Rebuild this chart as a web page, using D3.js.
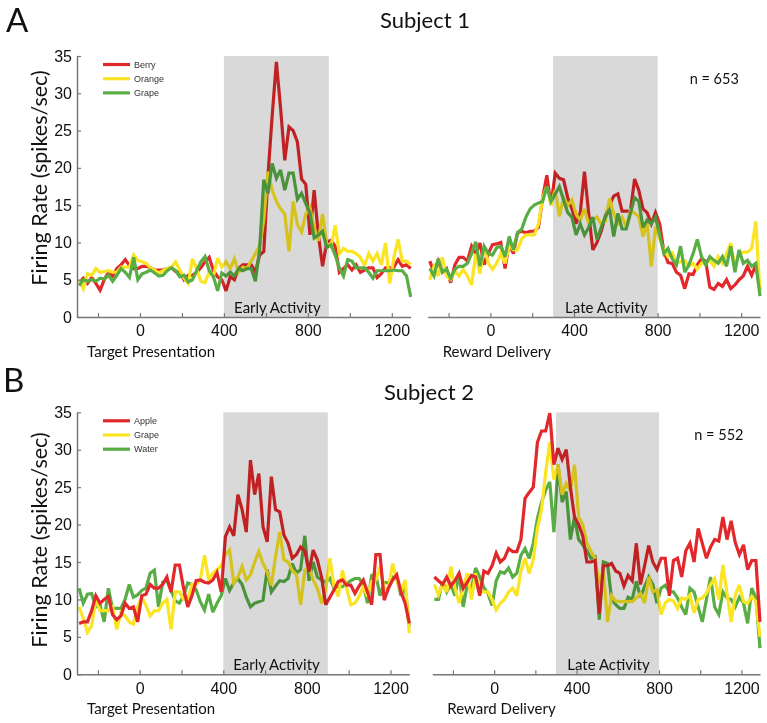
<!DOCTYPE html>
<html>
<head>
<meta charset="utf-8">
<script src="https://cdn.jsdelivr.net/npm/d3@7"></script>
<style>
  html, body { margin: 0; padding: 0; background: #fff; }
  svg { display: block; }
  .lbl { font-family: "Lato", "Open Sans", sans-serif; fill: #111; }
  .tick text { font-family: "Liberation Sans", Arial, sans-serif; font-size: 16px; fill: #111; }
  .legend text { font-family: "Liberation Sans", Arial, sans-serif; font-size: 9px; fill: #333; }
</style>
</head>
<body>
<svg id="chart" width="767" height="723"></svg>
<script>
// ---------------- data ----------------
const timeBins = d3.range(-290, 1291, 20); // 80 bins, ms
const xTickValues = [-200, 0, 200, 400, 600, 800, 1000, 1200];
const xTickLabels = [0, 400, 800, 1200];
const yTickValues = [0, 5, 10, 15, 20, 25, 30, 35];

const subjectTitles = ["Subject 1", "Subject 2"];
const panelLetters = ["A", "B"];
const cellCounts = ["n = 653", "n = 552"];
const s1Names = ["Berry", "Orange", "Grape"];
const s2Names = ["Apple", "Grape", "Water"];
const epochNames = ["Early Activity", "Late Activity"];
const alignNames = ["Target Presentation", "Reward Delivery"];
const earlyWindow = [400, 900];
const lateWindow = [300, 800];

// Subject 1, aligned to target
const s1TargetBerry = [4.6,5.2,4.5,5.3,4.5,3.6,5,6,5.5,6.5, 7,7.7,6.9,6.5,6.5,6.8,6.8,6.6,6.3,6.3, 6.3,6.5,6.6,6.1,6,5,5.6,5.6,6,6.6, 7.4,8,6.2,5.4,5,3.5,5.4,5,6.5,7, 7,7,6,8.3,8.8,19,27,34.2,28,21, 25.5,25,23.5,18.5,17.8,11,17,11,6.8,10, 10.3,9.5,6,6.5,7,6.3,7,6,6.3,6.6, 6.6,5.3,5.8,6.6,6.6,6.7,7.7,6.8,7,6.5];
const s1TargetOrange = [5,3.8,5.8,5.6,6.5,6,6.1,6.2,6,6, 6.7,6.7,6.7,8.3,7.6,7.4,7.2,6.6,6.3,5.9, 6.2,6.5,6.7,7.4,6.3,5.2,4.5,7.8,6.5,4.8, 4.6,6,5.5,7.9,6.7,7.4,6.5,7.8,6,6.7, 6.5,7.5,8.5,9.5,13,19.5,17,15.5,14.5,13.8, 8.8,15.5,12.4,11.4,13.8,14.7,12,10.2,13.8,9.8, 9.4,12.3,8.5,9.2,8.8,8.8,8.5,8,6.9,8.5, 7.5,8.5,7,9.9,4.5,8,10.4,7.5,7.5,7];
const s1TargetGrape = [4.2,5,4.8,5,4.8,5.2,5.1,5.6,4.8,5.6, 6.5,6,5.3,8,5,5.8,6,6.3,5.9,5.5, 5.6,6.2,6.6,6.2,5.4,5.6,4.7,5,6.2,7.4, 8.1,6.2,5.4,3.5,5.9,5.5,6,5.5,6.5,6.2, 6.5,6.5,4.8,9,18.4,16.6,20.6,18.6,19.7,17, 19.3,19.3,15.8,16.6,15.2,14,10.6,11,11.5,9.3, 9.7,8.3,6.6,5.5,7.7,7.5,6.6,6.6,6.6,6, 5.2,6.2,6.2,6.2,6.2,6.3,6.2,6.2,5.5,2.7];

// Subject 1, aligned to reward
const s1RewardBerry = [7.5,6,7.5,6,6.5,4.6,7,8,8,7.5, 9.5,8.5,9.9,7,8.5,9.7,9.8,10,6.5,9.8, 8.5,11.3,11.5,11.3,11.5,11.5,12,16,19,15, 19.3,18.6,18.4,16,14.5,12.5,14,19.5,14,9, 10,11.5,13.5,15,16.2,16.5,14.2,14.2,14.2,18.5, 17,14.5,14,12.5,14,12.5,8.8,7.3,7.2,6, 5.6,3.8,5.8,5.7,7,7.8,7.5,4,3.7,4.5, 4.1,5,3.8,4.3,5,5.5,6.8,5.6,7,3.7];
const s1RewardOrange = [5,6.8,5.5,8,5.5,5,6.2,5.5,6.4,5.5, 4.3,8.5,5.8,9.5,7.2,6.4,7.2,8.5,7.2,9.5, 9,9,10.5,11,11,11,12.5,16,17.5,15, 17,13.5,16,15,15.7,13.8,13,14.5,12.5,13, 13.4,12.5,12.8,15.9,13.9,12.5,13.4,12.1,14.3,13.9, 13.5,10.8,12.6,6.8,12.1,10.4,9,8.1,8.6,7.2, 7.4,7.6,6.8,7.2,6.4,7.2,7.2,7.6,6.8,8.1, 7.2,8.5,9.9,6.8,8.5,8.7,8.7,9.2,12.8,3.2];
const s1RewardGrape = [6.5,5.5,7.8,6,6.4,5.2,6.4,6.8,6.8,7.2, 8.5,10.1,6.8,9.5,8.5,8.3,9.3,9.5,8.1,10.8, 9,11.3,11.8,13.4,14.5,15,15.3,15.5,17.5,15.5, 16.5,17.5,15.7,14,13.4,11,12.5,11,12,13.4, 10.4,12,13.4,14.5,10.8,13.9,11.8,11.8,13.9,16, 15.5,12,13,12.5,13.4,11,8.5,9.2,7.8,7, 9.5,6,7,8.5,10.4,8.1,7,8.1,7.6,7.2, 8.1,6.8,9.5,6,9,7.2,7.6,6.8,7.2,2.8];

// Subject 2, aligned to target
const s2TargetApple = [6.8,7,7,8.5,10.5,9.5,10,10.4,8,7.3, 7.8,9.5,8.8,9,7,10.5,10.7,12,11.5,11.5, 12,13,11,14.6,14.6,11.5,9,10.5,12.5,12.6, 12.3,12.2,12.6,13.6,11,18.4,19.7,18.5,24,22, 19,28.6,24,26.8,19.7,17.7,26.4,22,21.7,18.6, 17.5,15.5,16,17,16.5,13.7,16.6,15.3,13,9.3, 10.3,11.3,12.4,12.6,11.9,11.9,10.8,11.8,12.6,11, 9.3,16,16,9.9,11.5,12.6,13.3,11,9.5,6.8];
const s2TargetGrape = [9,7.5,5.6,6.5,10,8.5,8.5,8.5,9,6, 8.3,7.8,7,6.7,9,10.3,9.2,7.8,8.5,8.5, 9.5,10,6,11,11,10,10,12,12,12.6, 15.9,12.6,13.5,14,14.5,16,16.6,12.2,13,14.4, 12.6,13.3,15,16.4,14.8,13.7,11.9,15.7,19,15.3, 15,13.9,13.3,9.3,13.9,14.4,12.6,11.5,9.5,11.3, 15.5,11.7,10.4,13.9,11.5,9.3,9.5,10.4,11.7,10.4, 12.4,12.6,14.4,11.5,11.3,14.8,12.6,11,12.6,5.5];
const s2TargetWater = [11.5,9.5,10.7,10.8,9,9.3,7,11.5,8.8,8.8, 8.8,10,12,10.3,10.6,11.2,11.5,13.5,13.9,9, 12.3,12.5,11.2,9.8,9.5,10.5,12.2,12,11.3,9.7, 8.6,10.7,8.3,9.5,10.5,12.8,11.2,12.2,12.8,12, 10.3,9,9.5,9.7,9.9,14,11,11.8,12.5,12.4, 12.8,14.8,13.5,14,18.5,12.5,15,13,12.6,12.3, 12.8,11.5,11.7,11.7,12.1,12.5,12.8,12.8,12,9.5, 13.2,13.3,10.5,12.3,12.2,13,12.9,10.5,11.7,6.4];

// Subject 2, aligned to reward
const s2RewardApple = [13,12.5,12,13,11.8,12.5,13.5,11.5,12.3,13.2, 13,10.5,13.8,13.5,14.5,16.2,15,15.5,16.8,16.4, 16.4,18,23.5,24.3,25,31,32.5,32.5,34.9,28, 30.2,28.7,30,25,21,20,18.5,15,15,15.2, 8.1,14.5,14.5,14.8,13.8,13.5,11.8,13.2,12.5,17.5, 12,14.5,17.2,15,14,15.5,15.5,10.5,15.2,15.5, 13,16.5,17.5,15,19.5,17.5,15.5,17,18,17.8, 21,18,20.5,17.6,16,17.3,14,15.2,15.2,7];
const s2RewardGrape = [12,10.6,12,11,14.4,11.5,9.5,11.5,13.5,10, 13.5,11,11,11,10,8.6,9.5,10,11,11.5, 10.5,13.8,15.5,13.5,15.3,19.5,22,27,31,26, 28,24,25.5,24.5,28,21,20,17.5,16.4,15.5, 12,14,7,10.5,9.8,9.7,9.7,9.7,9.7,10.2, 10.8,9.5,13,11,11.3,8,9.5,10,9.8,8.8, 10.2,10,10.6,8.2,10,10.2,10.8,12,12.8,10, 14.6,10.8,7,10.6,11.9,9.7,9.5,10.4,9.7,5];
const s2RewardWater = [10,10,12.4,11,12,10.5,13.5,9,12,11.5, 14.2,13,11.6,10.8,9.2,12.5,13.7,13.5,14.2,13, 13.5,15.9,16.8,15.5,17.5,20.8,23,24.6,25.7,19, 28,23,24.4,18,21,18,17.3,16.5,15.5,15.7, 7.3,15,14.8,10,9.3,8.8,8.8,10.3,10,12.4, 10.3,11.7,13,12,9.5,11.5,11.9,11,11,10.2, 9,8,11.5,11,9,7,10,13,9,8, 11,10.2,10,9,10.3,9.5,6.8,11.5,10.2,3.5];

const seriesColors = ["#e2282a", "#fbe422", "#58ad45"];

// ---------------- layout ----------------
const svg = d3.select("#chart");
const rows = [
  { top: 56, bottom: 317, letterY: 32, titleY: 27.5, yTitleCenter: 178, names: s1Names,
    panels: [
      { x0: 77, x1: 410.7, yAxis: true, win: earlyWindow, epoch: 0, align: 0,
        series: [s1TargetBerry, s1TargetOrange, s1TargetGrape], order: [0,1,2] },
      { x0: 427.7, x1: 760, yAxis: false, win: lateWindow, epoch: 1, align: 1,
        series: [s1RewardBerry, s1RewardOrange, s1RewardGrape], order: [0,1,2] }
    ] },
  { top: 412.3, bottom: 674.3, letterY: 392, titleY: 400, yTitleCenter: 540, names: s2Names,
    panels: [
      { x0: 77, x1: 409.3, yAxis: true, win: earlyWindow, epoch: 0, align: 0,
        series: [s2TargetApple, s2TargetGrape, s2TargetWater], order: [2,1,0] },
      { x0: 432.3, x1: 760, yAxis: false, win: lateWindow, epoch: 1, align: 1,
        series: [s2RewardApple, s2RewardGrape, s2RewardWater], order: [2,1,0] }
    ] }
];

rows.forEach((row, r) => {
  const g = svg.append("g");
  const y = d3.scaleLinear().domain([0, 35]).range([row.bottom, row.top]);

  row.panels.forEach((p, pi) => {
    const x = d3.scaleLinear().domain([-300, 1290]).range([p.x0, p.x1]);
    const pg = g.append("g");

    const line = d3.line().x((d, i) => x(timeBins[i])).y(d => y(d));
    p.order.forEach(k => {
      pg.append("path")
        .datum(p.series[k])
        .attr("d", line)
        .attr("fill", "none")
        .attr("stroke", seriesColors[k])
        .attr("stroke-width", 3.2)
        .attr("stroke-linejoin", "miter")
        .attr("stroke-miterlimit", 3);
    });

    // shaded analysis window (multiplied over the traces)
    pg.append("rect")
      .attr("x", x(p.win[0]))
      .attr("width", x(p.win[1]) - x(p.win[0]))
      .attr("y", y(35))
      .attr("height", y(0) - y(35))
      .attr("fill", "#d9d9d9")
      .style("mix-blend-mode", "multiply");

    pg.append("text").attr("class", "lbl")
      .attr("x", x((p.win[0] + p.win[1]) / 2) + 1)
      .attr("y", y(0) - 4.5)
      .attr("text-anchor", "middle")
      .attr("font-size", 15)
      .text(epochNames[p.epoch]);

    // x axis
    const xAxis = d3.axisBottom(x)
      .tickValues(xTickValues)
      .tickSizeInner(-4).tickSizeOuter(0).tickPadding(8)
      .tickFormat(d => xTickLabels.includes(d) ? d : "");
    const xa = pg.append("g").attr("transform", `translate(0,${y(0)})`).call(xAxis);
    xa.select(".domain").attr("stroke", "#777").attr("stroke-width", 1.5);
    xa.selectAll(".tick line").attr("stroke", "#777").attr("stroke-width", 1.2);

    if (p.yAxis) {
      const yAxis = d3.axisLeft(y).tickValues(yTickValues)
        .tickSizeInner(-4).tickSizeOuter(0).tickPadding(5);
      const ya = pg.append("g").attr("transform", `translate(${p.x0},0)`).call(yAxis);
      ya.select(".domain").attr("stroke", "#777").attr("stroke-width", 1.5);
      ya.selectAll(".tick line").attr("stroke", "#777").attr("stroke-width", 1.2);

      // y title
      pg.append("text").attr("class", "lbl")
        .attr("transform", `translate(47,${row.yTitleCenter}) rotate(-90)`)
        .attr("text-anchor", "middle")
        .attr("font-size", 21.5)
        .text("Firing Rate (spikes/sec)");

      // legend
      const lg = pg.append("g").attr("class", "legend");
      row.names.forEach((nm, k) => {
        const ly = row.top + 8.5 + k * 14.2;
        lg.append("line")
          .attr("x1", p.x0 + 26).attr("x2", p.x0 + 53)
          .attr("y1", ly).attr("y2", ly)
          .attr("stroke", seriesColors[k]).attr("stroke-width", 3.2);
        lg.append("text").attr("x", p.x0 + 57).attr("y", ly + 3.2).text(nm);
      });
    } else {
      pg.append("text").attr("class", "lbl")
        .attr("x", p.x0 + 262).attr("y", row.top + 28)
        .attr("font-size", 14.5)
        .text(cellCounts[r]);
    }

    // alignment label
    pg.append("text").attr("class", "lbl")
      .attr("x", pi === 0 ? p.x0 + 10 : p.x0 + 15)
      .attr("y", row.bottom + 40)
      .attr("font-size", 15)
      .text(alignNames[p.align]);
  });

  g.append("text").attr("class", "lbl")
    .attr("x", r === 0 ? 6 : 3).attr("y", row.letterY)
    .attr("font-size", 33)
    .text(panelLetters[r]);

  g.append("text").attr("class", "lbl")
    .attr("x", r === 0 ? 425 : 429).attr("y", row.titleY)
    .attr("text-anchor", "middle")
    .attr("font-size", 22)
    .text(subjectTitles[r]);
});
</script>
</body>
</html>
